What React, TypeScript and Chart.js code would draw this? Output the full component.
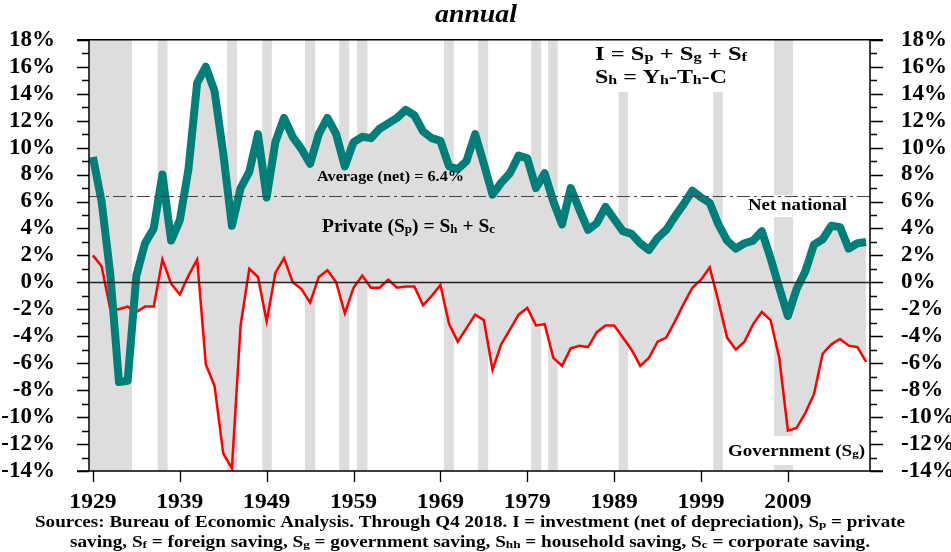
import React, { useEffect, useRef } from 'react';
import { Chart, registerables } from 'chart.js';

Chart.register(...registerables);

// ---------- data ----------
const YEARS = [
  1929, 1930, 1931, 1932, 1933, 1934, 1935, 1936, 1937, 1938,
  1939, 1940, 1941, 1942, 1943, 1944, 1945, 1946, 1947, 1948,
  1949, 1950, 1951, 1952, 1953, 1954, 1955, 1956, 1957, 1958,
  1959, 1960, 1961, 1962, 1963, 1964, 1965, 1966, 1967, 1968,
  1969, 1970, 1971, 1972, 1973, 1974, 1975, 1976, 1977, 1978,
  1979, 1980, 1981, 1982, 1983, 1984, 1985, 1986, 1987, 1988,
  1989, 1990, 1991, 1992, 1993, 1994, 1995, 1996, 1997, 1998,
  1999, 2000, 2001, 2002, 2003, 2004, 2005, 2006, 2007, 2008,
  2009, 2010, 2011, 2012, 2013, 2014, 2015, 2016, 2017, 2018,
];

// Net national saving, % of GNI
const NET_NATIONAL = [
  9.3, 6.0, 0.6, -7.4, -7.3, 0.5, 2.9, 4.0, 8.0, 3.1,
  4.6, 8.4, 14.8, 16.0, 14.2, 9.6, 4.2, 7.0, 8.2, 11.0,
  6.3, 10.4, 12.2, 10.8, 9.9, 8.8, 11.0, 12.2, 11.0, 8.6,
  10.4, 10.8, 10.7, 11.4, 11.8, 12.2, 12.8, 12.4, 11.2, 10.7,
  10.5, 8.6, 8.4, 9.0, 11.0, 8.8, 6.5, 7.4, 8.1, 9.4,
  9.2, 7.0, 8.1, 6.0, 4.3, 7.0, 5.4, 3.9, 4.4, 5.6,
  4.7, 3.8, 3.6, 2.9, 2.4, 3.3, 3.9, 4.9, 5.8, 6.8,
  6.3, 5.9, 4.3, 3.1, 2.5, 2.9, 3.1, 3.8, 1.8, -0.4,
  -2.5, -0.5, 0.8, 2.8, 3.2, 4.2, 4.1, 2.5, 2.9, 3.0,
];

// Government saving (Sg), % of GNI
const GOVERNMENT = [
  2.0, 1.2, -2.0, -2.0, -1.8, -2.2, -1.8, -1.8, 1.7, -0.1,
  -0.9, 0.5, 1.7, -6.1, -7.7, -12.7, -13.8, -3.2, 1.0, 0.4,
  -2.9, 0.7, 1.8, 0.0, -0.5, -1.5, 0.4, 0.9, 0.0, -2.3,
  -0.4, 0.5, -0.4, -0.4, 0.2, -0.4, -0.3, -0.3, -1.7, -1.0,
  -0.2, -3.1, -4.4, -3.4, -2.4, -2.8, -6.5, -4.6, -3.5, -2.4,
  -1.9, -3.2, -3.1, -5.6, -6.2, -4.9, -4.7, -4.8, -3.7, -3.2,
  -3.2, -4.1, -5.0, -6.2, -5.6, -4.4, -4.1, -2.9, -1.6, -0.4,
  0.2, 1.1, -1.4, -4.1, -5.0, -4.4, -3.1, -2.2, -2.8, -5.6,
  -11.0, -10.8, -9.7, -8.3, -5.3, -4.6, -4.2, -4.7, -4.8, -5.9,
];

const AVERAGE_NET = 6.4;
const X_TICK_YEARS = [1929, 1939, 1949, 1959, 1969, 1979, 1989, 1999, 2009];
const Y_MIN = -14;
const Y_MAX = 18;
const Y_STEP = 2;

// recession shading, in year units
const RECESSION_START = [1928.4, 1936.45, 1944.45, 1948.5, 1953.4, 1957.35, 1959.4, 1969.4, 1973.35, 1979.45, 1981.4, 1989.5, 2000.4, 2007.4];
const RECESSION_END = [1933.5, 1937.6, 1945.6, 1949.6, 1954.6, 1958.5, 1960.6, 1970.55, 1974.5, 1980.6, 1982.5, 1990.6, 2001.5, 2009.6];

// ---------- styles ----------
const SERIF = "'Liberation Serif', 'Times New Roman', serif";
const GREY = 'rgb(221,221,221)';
const TEAL = '#007f7a';
const RED = '#ff0000';

type Seg = [string, boolean];

function drawRich(
  ctx: CanvasRenderingContext2D,
  segs: Seg[],
  x: number,
  baseline: number,
  size: number,
  width: number,
  italic = false,
  align: 'left' | 'center' = 'left'
) {
  const fontFor = (sub: boolean) =>
    `${italic ? 'italic ' : ''}bold ${sub ? Math.round(size * 0.66) : size}px ${SERIF}`;
  let natural = 0;
  for (const [t, sub] of segs) {
    ctx.font = fontFor(sub);
    natural += ctx.measureText(t).width;
  }
  const s = width > 0 ? width / natural : 1;
  ctx.save();
  const startX = align === 'center' ? x - (natural * s) / 2 : x;
  ctx.translate(startX, baseline);
  ctx.scale(s, 1);
  ctx.textBaseline = 'alphabetic';
  ctx.textAlign = 'left';
  ctx.fillStyle = '#000';
  let cx = 0;
  for (const [t, sub] of segs) {
    ctx.font = fontFor(sub);
    ctx.fillText(t, cx, sub ? size * 0.04 : 0);
    cx += ctx.measureText(t).width;
  }
  ctx.restore();
}

const decorPlugin = {
  id: 'decor',
  beforeDraw(chart: any) {
    const { ctx, chartArea: a, scales } = chart;
    const xs = scales.x;
    ctx.save();
    ctx.fillStyle = GREY;
    for (let i = 0; i < RECESSION_START.length; i++) {
      const x0 = Math.max(a.left, xs.getPixelForValue(RECESSION_START[i]));
      const x1 = Math.min(a.right, xs.getPixelForValue(RECESSION_END[i]));
      ctx.fillRect(x0, a.top, x1 - x0, a.bottom - a.top);
    }
    // white label backgrounds
    ctx.fillStyle = '#fff';
    ctx.fillRect(560, 28, 205, 64);
    ctx.fillRect(745, 195, 105, 22);
    ctx.fillRect(726, 436, 142, 29);
    ctx.restore();
  },
  afterDatasetsDraw(chart: any) {
    const { ctx, chartArea: a, scales } = chart;
    const xs = scales.x;
    const ys = scales.y;
    ctx.save();
    // zero line
    const y0 = Math.round(ys.getPixelForValue(0)) + 0.5;
    ctx.strokeStyle = '#222';
    ctx.lineWidth = 1.3;
    ctx.beginPath();
    ctx.moveTo(a.left, y0);
    ctx.lineTo(a.right, y0);
    ctx.stroke();
    // average dash-dot line
    const ya = Math.round(ys.getPixelForValue(AVERAGE_NET)) + 0.5;
    ctx.strokeStyle = '#444';
    ctx.lineWidth = 1.2;
    ctx.setLineDash([13, 4, 3, 4]);
    ctx.beginPath();
    ctx.moveTo(a.left, ya);
    ctx.lineTo(a.right, ya);
    ctx.stroke();
    ctx.setLineDash([]);

    // axes frame
    ctx.strokeStyle = '#000';
    ctx.lineWidth = 1.5;
    ctx.beginPath();
    ctx.moveTo(a.left - 12, a.top);
    ctx.lineTo(a.right + 13, a.top);
    ctx.moveTo(a.left - 12, a.bottom);
    ctx.lineTo(a.right + 13, a.bottom);
    ctx.moveTo(a.left, a.top);
    ctx.lineTo(a.left, a.bottom);
    ctx.moveTo(a.right, a.top);
    ctx.lineTo(a.right, a.bottom);
    ctx.stroke();

    // y tick marks (major every 2, minor every 1)
    ctx.lineWidth = 1.3;
    ctx.beginPath();
    for (let v = Y_MIN; v <= Y_MAX; v++) {
      const py = Math.round(ys.getPixelForValue(v)) + 0.5;
      const major = v % 2 === 0;
      ctx.moveTo(a.left - (major ? 12 : 7), py);
      ctx.lineTo(a.left, py);
      ctx.moveTo(a.right, py);
      ctx.lineTo(a.right + (major ? 13 : 7), py);
    }
    // x tick marks
    for (const yr of X_TICK_YEARS) {
      const px = Math.round(xs.getPixelForValue(yr)) + 0.5;
      ctx.moveTo(px, a.bottom);
      ctx.lineTo(px, a.bottom + 11);
    }
    ctx.stroke();
    ctx.restore();
  },
  afterDraw(chart: any) {
    const { ctx, chartArea: a, scales } = chart;
    const xs = scales.x;
    ctx.save();
    // x tick labels, placed at the scale's tick positions
    ctx.font = `bold 22px ${SERIF}`;
    ctx.fillStyle = '#000';
    ctx.textAlign = 'center';
    ctx.textBaseline = 'alphabetic';
    for (const yr of X_TICK_YEARS) {
      ctx.save();
      ctx.translate(xs.getPixelForValue(yr), a.bottom + 36.5);
      ctx.scale(1.07, 1);
      ctx.fillText(String(yr), 0, 0);
      ctx.restore();
    }
    // title
    drawRich(ctx, [['annual', false]], 476, 22, 25, 82, true, 'center');
    // annotations
    drawRich(ctx, [['Average (net) = 6.4%', false]], 317, 181, 14, 147);
    drawRich(
      ctx,
      [['Private (S', false], ['p', true], [') = S', false], ['h', true], [' + S', false], ['c', true]],
      322, 232, 18, 173
    );
    drawRich(
      ctx,
      [['I = S', false], ['p', true], [' + S', false], ['g', true], [' + S', false], ['f', true]],
      595, 60, 18, 152
    );
    drawRich(
      ctx,
      [['S', false], ['h', true], [' = Y', false], ['h', true], ['-T', false], ['h', true], ['-C', false]],
      595, 83, 18, 132
    );
    drawRich(ctx, [['Net national', false]], 748, 210, 16, 99);
    drawRich(ctx, [['Government (S', false], ['g', true], [')', false]], 728, 456, 16, 137);
    // footer
    drawRich(
      ctx,
      [
        ['Sources: Bureau of Economic Analysis. Through Q4 2018. I = investment (net of depreciation), S', false],
        ['p', true],
        [' = private', false],
      ],
      35, 527, 16, 870
    );
    drawRich(
      ctx,
      [
        ['saving, S', false], ['f', true], [' = foreign saving, S', false], ['g', true],
        [' = government saving, S', false], ['hh', true], [' = household saving, S', false],
        ['c', true], [' = corporate saving.', false],
      ],
      70, 547, 16, 800
    );
    ctx.restore();
  },
};

export default function App() {
  const ref = useRef<HTMLCanvasElement | null>(null);

  useEffect(() => {
    if (!ref.current) return;
    const tickFont = { family: SERIF, size: 23, weight: 'bold' as const };
    const chart = new Chart(ref.current, {
      type: 'line',
      data: {
        datasets: [
          {
            label: 'Net national',
            data: YEARS.map((yr, i) => ({ x: yr, y: NET_NATIONAL[i] })),
            borderColor: TEAL,
            borderWidth: 8,
            backgroundColor: GREY,
            fill: 'origin',
            pointRadius: 0,
            tension: 0,
            borderJoinStyle: 'round',
            borderCapStyle: 'butt',
            yAxisID: 'y',
          },
          {
            label: 'Government (Sg)',
            data: YEARS.map((yr, i) => ({ x: yr, y: GOVERNMENT[i] })),
            borderColor: RED,
            borderWidth: 2.5,
            backgroundColor: GREY,
            fill: 'origin',
            pointRadius: 0,
            tension: 0,
            borderJoinStyle: 'miter',
            yAxisID: 'y',
          },
        ],
      },
      options: {
        responsive: false,
        devicePixelRatio: 1,
        animation: false,
        events: [],
        layout: { padding: { top: 25, left: 0, right: 0, bottom: 0 } },
        plugins: {
          legend: { display: false },
          tooltip: { enabled: false },
          title: { display: false },
          filler: { drawTime: 'beforeDatasetsDraw' },
        } as any,
        scales: {
          x: {
            type: 'linear',
            min: 1928.55,
            max: 2018.45,
            grid: { display: false },
            border: { display: false },
            afterBuildTicks: (s: any) => {
              s.ticks = X_TICK_YEARS.map((v) => ({ value: v }));
            },
            afterFit: (s: any) => {
              s.height = 81;
            },
            ticks: { display: false },
          },
          y: {
            position: 'left',
            min: Y_MIN,
            max: Y_MAX,
            grid: { display: false },
            border: { display: false },
            afterFit: (s: any) => {
              s.width = 89;
            },
            ticks: {
              stepSize: Y_STEP,
              autoSkip: false,
              callback: (v: any) => `${v}%`,
              font: tickFont,
              color: '#000',
              padding: 26,
            },
          },
          y2: {
            position: 'right',
            min: Y_MIN,
            max: Y_MAX,
            grid: { display: false },
            border: { display: false },
            afterFit: (s: any) => {
              s.width = 81;
            },
            ticks: {
              stepSize: Y_STEP,
              autoSkip: false,
              callback: (v: any) => `${v}%`,
              font: tickFont,
              color: '#000',
              padding: 23,
            },
          },
        } as any,
      },
      plugins: [decorPlugin],
    });
    return () => chart.destroy();
  }, []);

  return (
    <canvas
      ref={ref}
      width={951}
      height={552}
      style={{ position: 'absolute', left: 0, top: 0, display: 'block' }}
    />
  );
}
